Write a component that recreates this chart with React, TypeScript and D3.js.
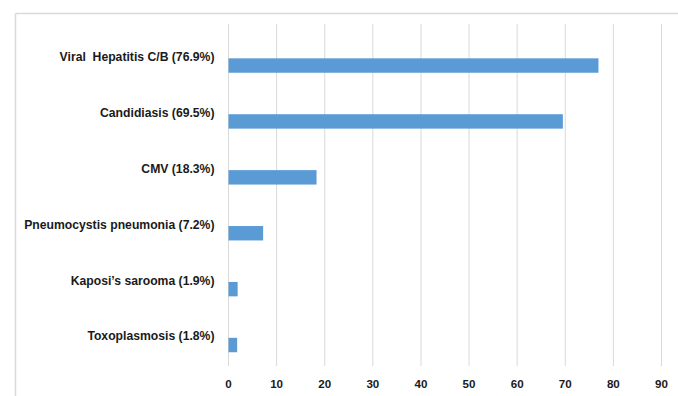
import React from "react";
import * as d3 from "d3";

const categories = [
  "Viral  Hepatitis C/B (76.9%)",
  "Candidiasis (69.5%)",
  "CMV (18.3%)",
  "Pneumocystis pneumonia (7.2%)",
  "Kaposi’s sarooma (1.9%)",
  "Toxoplasmosis (1.8%)",
];
const values = [76.9, 69.5, 18.3, 7.2, 1.9, 1.8];
const xTicks = [0, 10, 20, 30, 40, 50, 60, 70, 80, 90];

const W = 678;
const H = 396;

export default function App() {
  const x = d3.scaleLinear().domain([0, 90]).range([228.5, 661.5]);
  const y = d3.scaleBand<string>().domain(categories).range([28.7, 364.1]).padding(0);
  const step = y.step();
  const font = "'Liberation Sans', Arial, sans-serif";

  return (
    <svg width={W} height={H} style={{ position: "absolute", left: 0, top: 0 }}>
      <rect x={0} y={0} width={W} height={H} fill="#fff" />
      {/* frame */}
      <line x1={15.5} x2={W} y1={13.5} y2={13.5} stroke="#d9d9d9" strokeWidth={1.5} />
      <line x1={15.5} x2={15.5} y1={13.5} y2={H} stroke="#d9d9d9" strokeWidth={1.5} />
      {/* grid */}
      {xTicks.map((t) => (
        <line key={t} x1={x(t)} x2={x(t)} y1={24} y2={366} stroke="#d9d9d9" strokeWidth={1} />
      ))}
      {/* bars */}
      {categories.map((c, i) => (
        <rect
          key={c}
          x={x(0)}
          y={(y(c) as number) + step * 0.53}
          width={x(values[i]) - x(0)}
          height={step * 0.258}
          fill="#5b9bd5"
        />
      ))}
      {/* category labels */}
      {categories.map((c) => (
        <text
          key={c}
          x={214.5}
          y={(y(c) as number) + step / 2}
          dy="0.35em"
          textAnchor="end"
          fontFamily={font}
          fontWeight="bold"
          fontSize={12.2}
          fill="#1a1a1a"
          style={{ whiteSpace: "pre" }}
        >
          {c}
        </text>
      ))}
      {/* x tick labels */}
      {xTicks.map((t) => (
        <text
          key={t}
          x={x(t)}
          y={387.5}
          textAnchor="middle"
          fontFamily={font}
          fontWeight="bold"
          fontSize={11.6}
          fill="#1a1a1a"
        >
          {t}
        </text>
      ))}
    </svg>
  );
}
